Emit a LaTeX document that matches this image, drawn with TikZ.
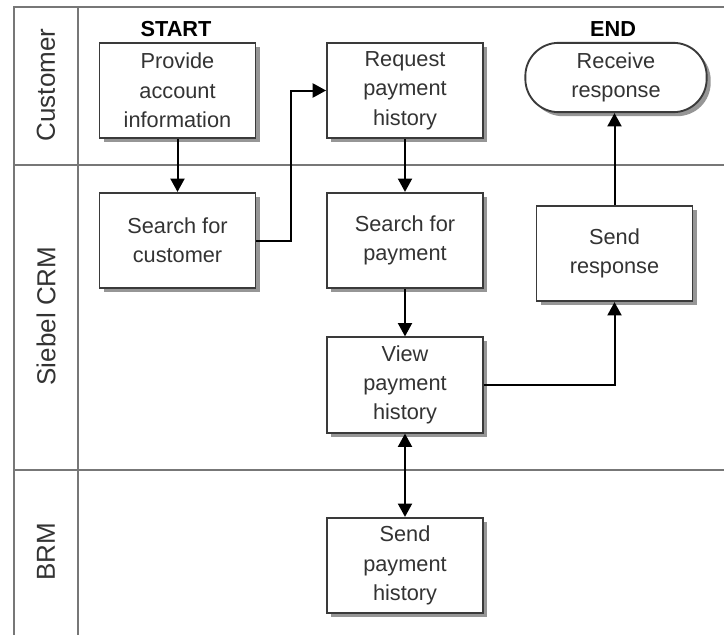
\documentclass[tikz,border=0pt]{standalone}
\usepackage{fontspec}
\setmainfont{Liberation Sans}
\usetikzlibrary{shadows,arrows.meta,positioning}
\definecolor{lanegray}{HTML}{777777}
\definecolor{boxgray}{HTML}{3A3A3A}
\definecolor{txtgray}{HTML}{333333}

\begin{document}
\begin{tikzpicture}[x=0.75pt,y=-0.75pt,>={Triangle[length=10pt,width=10.5pt]},
  lane/.style={draw=lanegray,line width=1.7pt},
  lanelabel/.style={rotate=90,text=txtgray,font=\fontsize{19.5}{22}\selectfont},
  task/.style={draw=boxgray,line width=1.4pt,fill=white,text=txtgray,align=center,
    minimum width=117pt,minimum height=71.5pt,inner sep=0pt,
    font=\fontsize{16.3}{22}\selectfont,
    drop shadow={shadow xshift=3pt,shadow yshift=-3pt,fill=black!55,opacity=.75}},
  terminal/.style={task,rounded corners=25pt,minimum width=136pt,minimum height=52pt},
  flag/.style={font=\fontsize{16.3}{18}\bfseries\selectfont,text=black},
  flow/.style={->,line width=1.5pt}]
\useasboundingbox (0,0) rectangle (724,635);
\draw [lane] (724,7) -- (14,7) -- (14,635);
\draw [lane] (78,7) -- (78,635);
\draw [lane] (14,165) -- (724,165);
\draw [lane] (14,470) -- (724,470);
\node [lanelabel] (lcust) at (46,85) {Customer};
\node [lanelabel] (lcrm) at (46,316) {Siebel CRM};
\node [lanelabel] (lbrm) at (46,552) {BRM};
\node [task] (provide) at (177.5,90.5) {Provide\\account\\information};
\node [task] (custsearch) at (177.5,240.5) {Search for\\customer};
\node [task] (request) at (405,90.5) {Request\\payment\\history};
\node [terminal] (receive) at (616,77.5) {Receive\\response};
\node [task] (paysearch) at (405,240.5) {Search for\\payment};
\node [task] (sendresp) at (614.5,253.5) {Send\\response};
\node [task] (viewpay) at (405,385) {View\\payment\\history};
\node [task] (sendpay) at (405,565.5) {Send\\payment\\history};
\node [flag] (start) at (176,29) {START};
\node [flag] (end) at (613,29) {END};
\draw [flow] (provide) -- (custsearch);
\draw [flow] (custsearch.east) -- ++(35,0) |- (request.west);
\draw [flow] (request) -- (paysearch);
\draw [flow] (paysearch) -- (viewpay);
\draw [flow] (viewpay.east) -| (sendresp.south);
\draw [flow] (sendresp.north) -- (sendresp.north |- receive.south);
\draw [flow,<->] (viewpay) -- (sendpay);
\end{tikzpicture}
\end{document}
